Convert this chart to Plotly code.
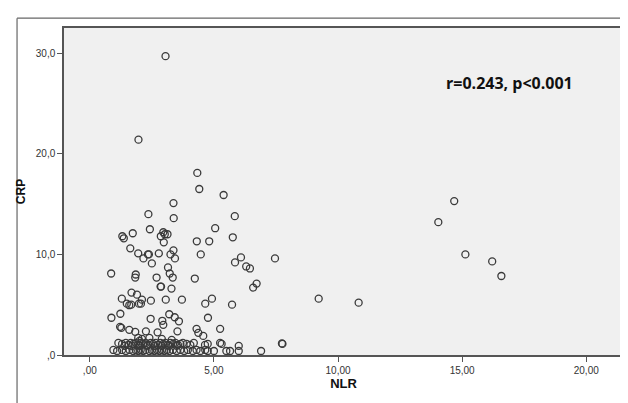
import plotly.graph_objects as go

# NLR (x) and CRP (y) values
nlr = [
    3.05, 1.96, 4.33, 4.41, 5.39, 3.37, 2.36, 3.38, 5.84, 5.05, 2.42, 1.73, 1.31, 1.37,
    2.96, 3.02, 2.86, 3.13, 2.98, 4.31, 4.81, 5.76, 1.63, 3.37, 1.95, 2.34, 2.38, 2.78,
    2.16, 3.25, 3.43, 4.47, 2.50, 6.09, 5.85, 7.46, 6.30, 6.45, 3.15, 0.86, 1.85, 1.83,
    3.22, 2.69, 3.34, 4.23, 6.58, 6.72, 2.85, 2.87, 3.29, 1.68, 1.90, 1.29, 2.10, 2.06,
    2.46, 1.49, 1.59, 1.67, 1.98, 3.06, 3.71, 4.65, 4.92, 5.73, 0.87, 1.23, 2.45, 3.20,
    3.42, 3.59, 2.92, 2.96, 4.76, 1.22, 1.27, 1.59, 1.83, 2.26, 2.73, 3.53, 4.30, 4.37,
    4.57, 5.25, 14.68, 14.04, 15.13, 16.21, 16.58, 9.22, 10.83, 7.76, 7.74,
    # band near 1.1
    1.15, 1.30, 1.45, 1.55, 1.65, 1.75, 1.85, 1.95, 2.05, 2.15, 2.25, 2.35, 2.45, 2.55,
    2.65, 2.75, 2.85, 2.95, 3.05, 3.15, 3.25, 3.35, 3.45, 3.55, 3.65, 3.75, 3.90, 4.05,
    4.19, 4.64, 4.75, 5.25, 5.31, 6.00, 1.40, 1.70, 2.00, 2.30, 2.60, 2.90, 3.20, 3.50,
    # band near 0.5
    0.95, 1.10, 1.30, 1.45, 1.60, 1.75, 1.85, 1.95, 2.05, 2.15, 2.25, 2.40, 2.50, 2.60,
    2.70, 2.80, 2.90, 3.00, 3.10, 3.20, 3.35, 3.50, 3.65, 3.80, 3.95, 4.15, 4.30, 4.45,
    4.65, 4.75, 5.00, 5.50, 5.65, 6.00, 6.90,
    # rows near 1.5
    1.95, 2.10, 2.40, 2.00, 2.90, 3.30,
]
crp = [
    29.7, 21.4, 18.1, 16.5, 15.9, 15.1, 14.0, 13.6, 13.8, 12.6, 12.5, 12.1, 11.8, 11.6,
    12.2, 12.0, 11.8, 12.0, 11.2, 11.3, 11.3, 11.7, 10.6, 10.4, 10.1, 10.0, 10.0, 10.1,
    9.6, 10.0, 9.6, 10.0, 9.1, 9.7, 9.2, 9.6, 8.8, 8.6, 8.7, 8.1, 8.0, 7.7,
    8.1, 7.7, 7.7, 7.6, 6.7, 7.1, 6.8, 6.8, 6.6, 6.2, 6.0, 5.6, 5.5, 5.1,
    5.4, 5.1, 4.95, 5.0, 5.1, 5.5, 5.5, 5.1, 5.6, 5.0, 3.7, 4.1, 3.6, 4.05,
    3.75, 3.35, 3.4, 3.0, 3.7, 2.8, 2.7, 2.5, 2.3, 2.35, 2.25, 2.35, 2.6, 2.2,
    1.9, 2.6, 15.3, 13.2, 10.0, 9.3, 7.85, 5.6, 5.2, 1.1, 1.15,
    1.2, 1.1, 1.2, 1.0, 1.2, 1.1, 1.2, 1.0, 1.2, 1.1, 1.2, 1.0, 1.2, 1.1,
    1.2, 1.0, 1.2, 1.1, 1.2, 1.0, 1.2, 1.1, 1.2, 1.0, 1.1, 1.2, 1.1, 1.0,
    1.2, 1.0, 1.1, 1.2, 1.1, 0.9, 0.9, 0.9, 0.9, 0.9, 0.9, 0.9, 0.9, 0.9,
    0.5, 0.4, 0.5, 0.4, 0.5, 0.4, 0.5, 0.4, 0.5, 0.4, 0.5, 0.4, 0.5, 0.4,
    0.5, 0.4, 0.5, 0.4, 0.5, 0.4, 0.5, 0.4, 0.5, 0.4, 0.5, 0.4, 0.5, 0.4,
    0.5, 0.4, 0.4, 0.4, 0.4, 0.4, 0.4,
    1.7, 1.6, 1.7, 1.4, 1.6, 1.5,
]

x_tickvals = [0, 5, 10, 15, 20]
x_ticktext = [",00", "5,00", "10,00", "15,00", "20,00"]
y_tickvals = [0, 10, 20, 30]
y_ticktext = [",0", "10,0", "20,0", "30,0"]
annotation_text = "r=0.243, p<0.001"

fig = go.Figure()
fig.add_trace(go.Scatter(
    x=nlr, y=crp, mode="markers",
    marker=dict(symbol="circle-open", size=7, color="#3a3a3a", line=dict(width=1.3)),
    showlegend=False,
))

axis_common = dict(
    showgrid=False, zeroline=False, showline=True, linecolor="#555555", linewidth=1.5,
    mirror=True, ticks="outside", ticklen=5, tickcolor="#555555", tickwidth=1,
    tickfont=dict(family="Liberation Sans, Arial", size=10, color="#333333"),
)

fig.update_layout(
    width=628, height=403,
    margin=dict(l=54, r=11, t=20, b=56),
    paper_bgcolor="white", plot_bgcolor="#f0f0f0",
    xaxis=dict(range=[-1.04, 21.48], tickvals=x_tickvals, ticktext=x_ticktext,
               title=dict(text="<b>NLR</b>", font=dict(family="Liberation Sans, Arial", size=13, color="#111111"), standoff=3),
               **axis_common),
    yaxis=dict(range=[0, 32.5], tickvals=y_tickvals, ticktext=y_ticktext,
               title=dict(text="<b>CRP</b>", font=dict(family="Liberation Sans, Arial", size=12, color="#111111"), standoff=8),
               **axis_common),
    annotations=[dict(x=16.9, y=27.0, xref="x", yref="y", text="<b>" + annotation_text + "</b>",
                      showarrow=False, font=dict(family="Open Sans, Liberation Sans", size=16, color="#111111"))],
    shapes=[
        dict(type="line", xref="paper", yref="paper", x0=-0.084, x1=1.03, y0=1.03, y1=1.03,
             line=dict(color="#666666", width=1.2)),
        dict(type="line", xref="paper", yref="paper", x0=-0.084, x1=-0.084, y0=1.03, y1=-0.2,
             line=dict(color="#666666", width=1.2)),
    ],
)

fig.write_html("out.html")
